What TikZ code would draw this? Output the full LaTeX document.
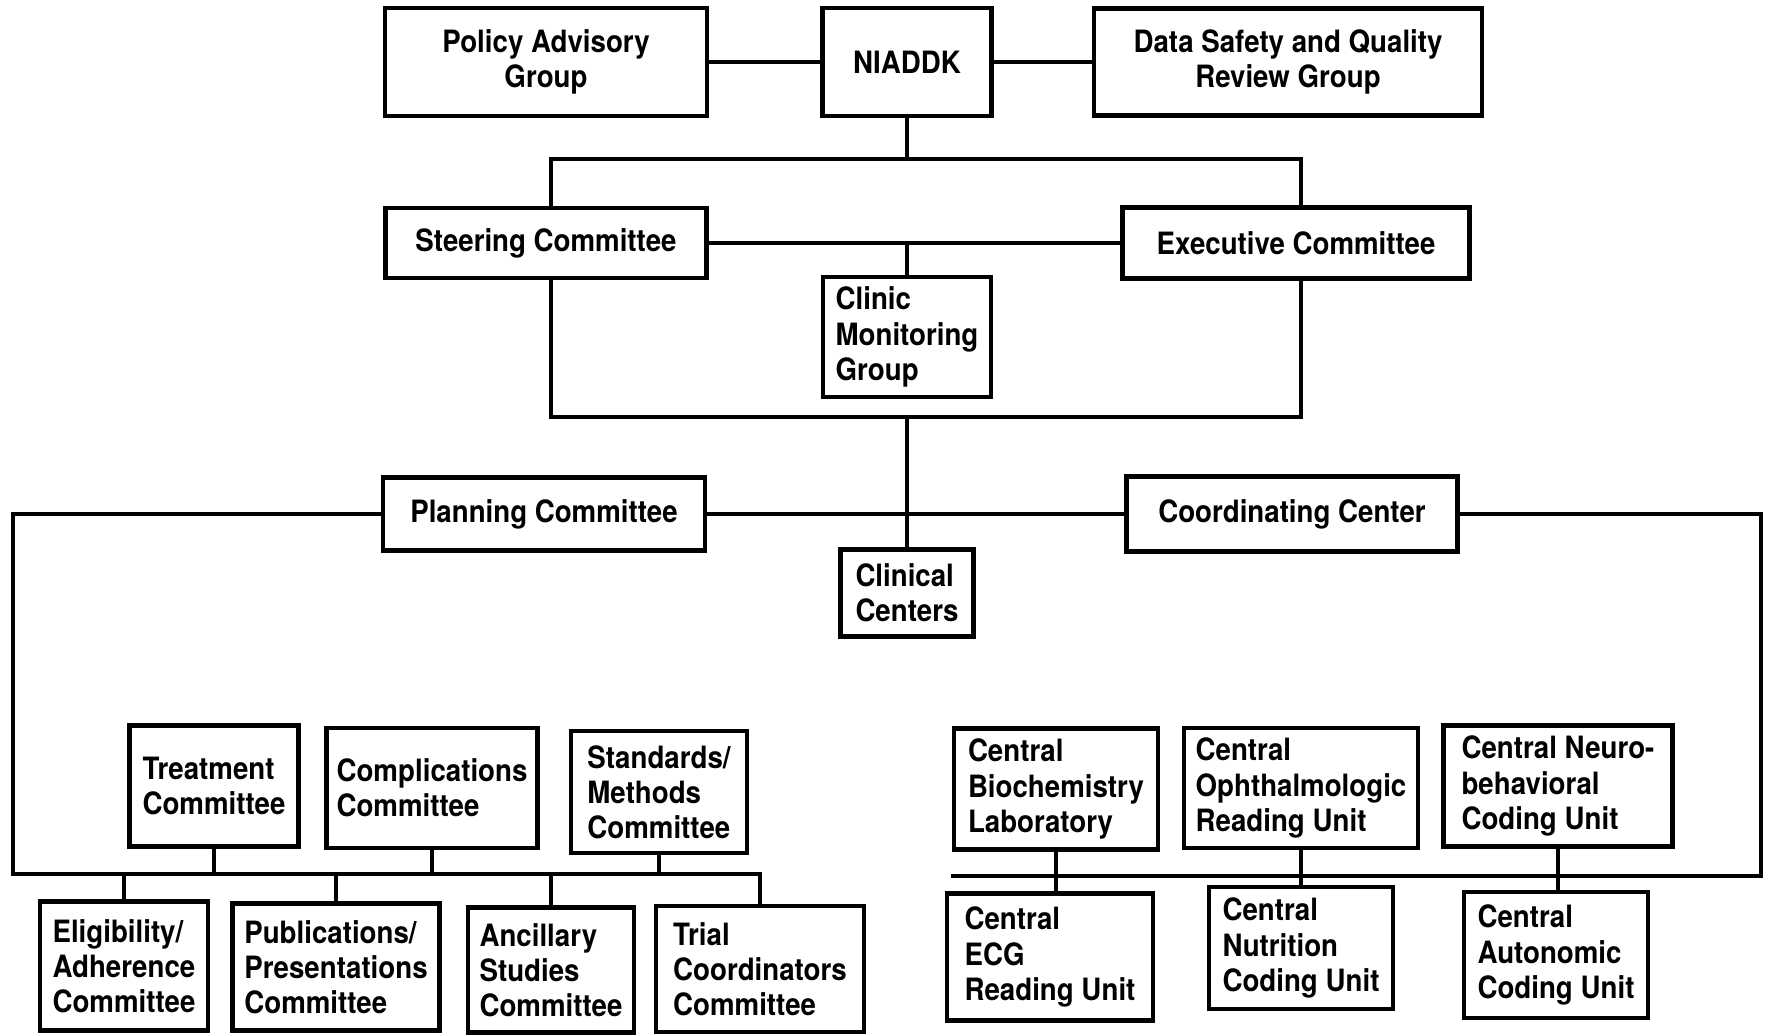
\documentclass[tikz,border=0pt]{standalone}
\usepackage{fontspec}
\setmainfont{TeX Gyre Heros}[FakeStretch=0.9]

\begin{document}
\begin{tikzpicture}[x=0.02cm,y=-0.02cm,
	box/.style={draw,line width=2.8pt,inner xsep=2pt,inner ysep=2pt,
		font=\bfseries\fontsize{17.5}{20}\selectfont},
	wh/.style 2 args={minimum width=#1*0.02cm,minimum height=#2*0.02cm},
	link/.style={line width=2.8pt}]
	\useasboundingbox (0,0) rectangle (1767,1034);

	\node[box,wh={322}{108},align=center] (policy) at (546,62) {Policy Advisory\\Group};
	\node[box,wh={169}{108}] (niaddk) at (907,62) {NIADDK};
	\node[box,wh={388}{107},align=center] (dsqr) at (1288,62) {Data Safety and Quality\\Review Group};
	\node[box,wh={321}{70}] (steer) at (546,243) {Steering Committee};
	\node[box,wh={347}{71}] (exec) at (1296,243) {Executive Committee};
	\node[box,wh={168}{120},align=left] (cmg) at (907,337) {Clinic\\Monitoring\\Group};
	\node[box,wh={322}{73}] (plan) at (544,514) {Planning Committee};
	\node[box,wh={331}{75}] (coord) at (1292,514) {Coordinating Center};
	\node[box,wh={133}{87},align=left] (clin) at (907,593) {Clinical\\Centers};

	\node[box,wh={169}{121},align=left] (treat) at (214,786) {Treatment\\Committee};
	\node[box,wh={211}{120},align=left] (compl) at (432,788) {Complications\\Committee};
	\node[box,wh={176}{122},align=left] (stand) at (659,792) {Standards/\\Methods\\Committee};
	\node[box,wh={168}{129},align=left] (elig) at (124,966) {Eligibility/\\Adherence\\Committee};
	\node[box,wh={207}{127},align=left] (publ) at (336,967) {Publications/\\Presentations\\Committee};
	\node[box,wh={166}{125},align=left] (ancil) at (551,970) {Ancillary\\Studies\\Committee};
	\node[box,wh={208}{126},align=left] (trial) at (760,969) {Trial\\Coordinators\\Committee};

	\node[box,wh={204}{121},align=left] (biochem) at (1056,789) {Central\\Biochemistry\\Laboratory};
	\node[box,wh={234}{120},align=left] (ophth) at (1301,788) {Central\\Ophthalmologic\\Reading Unit};
	\node[box,wh={229}{121},align=left] (neuro) at (1558,786) {Central Neuro-\\behavioral\\Coding Unit};
	\node[box,wh={206}{127},align=left] (ecg) at (1050,957) {Central\\ECG\\Reading Unit};
	\node[box,wh={184}{122},align=left] (nutr) at (1301,948) {Central\\Nutrition\\Coding Unit};
	\node[box,wh={184}{126},align=left] (auton) at (1556,955) {Central\\Autonomic\\Coding Unit};

	\coordinate (tl) at (551,159);
	\coordinate (tr) at (1301,159);
	\coordinate (bl) at (551,417);
	\coordinate (br) at (1301,417);
	\coordinate (lbus) at (13,874);
	\coordinate (rbus) at (1761,876);
	\coordinate (rend) at (951,876);

	\draw[link] (policy) -- (niaddk) -- (dsqr);
	\draw[link] (niaddk) -- (niaddk |- tl);
	\draw[link] (steer.north -| tl) -- (tl) -- (tr) -- (exec.north -| tr);
	\draw[link] (steer) -- (exec);
	\draw[link] (cmg) -- (cmg |- steer);
	\draw[link] (steer.south -| bl) -- (bl) -- (br) -- (exec.south -| br);
	\draw[link] (clin) -- (clin |- bl);
	\draw[link] (plan) -- (coord);
	\draw[link] (plan.west) -| (lbus) -- (trial.north |- lbus) -- (trial.north);
	\draw[link] (coord.east) -| (rbus) -- (rend);
	\foreach \n in {treat,compl,stand,elig,publ,ancil}
		\draw[link] (\n) -- (\n |- lbus);
	\foreach \a/\b in {biochem/ecg,ophth/nutr,neuro/auton}
		\draw[link] (\a) -- (\a |- \b.north);
\end{tikzpicture}
\end{document}
